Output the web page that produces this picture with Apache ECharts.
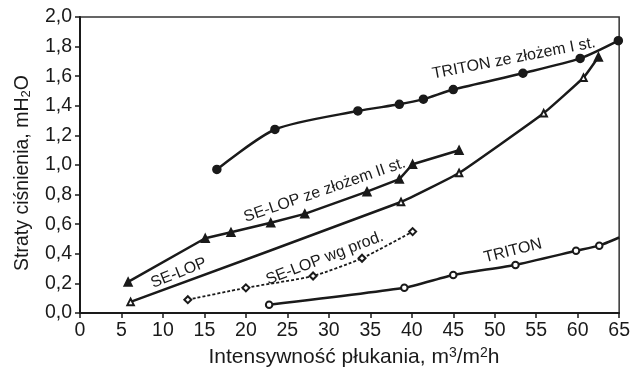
<!DOCTYPE html>
<html>
<head>
<meta charset="utf-8">
<script src="https://cdn.jsdelivr.net/npm/echarts@6/dist/echarts.min.js"></script>
<style>
  html, body { margin: 0; background: #fff; }
  #chart { width: 633px; height: 371px; }
</style>
</head>
<body>
<div id="chart"></div>
<script>
// values
const tritonBedX = [16.5, 23.5, 33.5, 38.5, 41.4, 45.0, 53.4, 60.3, 64.9];
const tritonBedY = [0.97, 1.24, 1.365, 1.41, 1.445, 1.51, 1.62, 1.72, 1.84];

const selopBedX = [5.8, 15.1, 18.2, 23.0, 27.1, 34.6, 38.5, 40.1, 45.7];
const selopBedY = [0.21, 0.505, 0.545, 0.61, 0.67, 0.82, 0.905, 1.005, 1.10];

const selopX = [6.1, 38.7, 45.7, 55.9, 60.7, 62.5];
const selopY = [0.075, 0.75, 0.946, 1.35, 1.59, 1.73];

const selopProdX = [13.0, 20.0, 28.1, 34.0, 40.1];
const selopProdY = [0.09, 0.17, 0.25, 0.37, 0.55];

const tritonX = [22.8, 39.1, 45.0, 52.5, 59.8, 62.6, 65.0];
const tritonY = [0.055, 0.17, 0.257, 0.325, 0.42, 0.455, 0.51];

const xTitle = 'Intensywność płukania, m{sup|3}/m{sup|2}h';
const yTitle = 'Straty ciśnienia, mH{sub|2}O';

const FONT = 'Liberation Sans, Arial, sans-serif';
const INK = '#1a1a1a';

const pairs = (xs, ys) => xs.map((x, i) => [x, ys[i]]);

// curve labels: anchor in data units, angle in degrees
const curveLabels = [
  { text: 'TRITON ze złożem I st.', at: [52.3, 1.72], angle: 11 },
  { text: 'SE-LOP ze złożem II st.', at: [29.5, 0.83], angle: 19 },
  { text: 'SE-LOP', at: [11.9, 0.27], angle: 22 },
  { text: 'SE-LOP wg prod.', at: [29.5, 0.37], angle: 21 },
  { text: 'TRITON', at: [52.2, 0.42], angle: 14 },
];

const chart = echarts.init(document.getElementById('chart'));

const line = (data, symbol, extra) => Object.assign({
  type: 'line',
  data,
  symbol,
  symbolSize: 7,
  smooth: 0.15,
  lineStyle: { color: INK, width: 2.5 },
  itemStyle: { color: INK, borderColor: INK, borderWidth: 1.5 },
  emphasis: { disabled: true },
  z: 3,
}, extra || {});

chart.setOption({
  animation: false,
  textStyle: { fontFamily: FONT },
  grid: {
    left: 80, right: 13, top: 17, bottom: 58,
    show: true, borderColor: '#333', borderWidth: 1.5,
  },
  xAxis: {
    type: 'value', min: 0, max: 65, interval: 5,
    axisLine: { lineStyle: { color: INK, width: 2 } },
    axisTick: { inside: false, length: 5, lineStyle: { color: INK, width: 1.5 } },
    axisLabel: { color: INK, fontSize: 19.5, margin: 8, fontFamily: FONT },
    splitLine: { show: false },
  },
  yAxis: {
    type: 'value', min: 0, max: 2, interval: 0.2,
    axisLine: { show: true, lineStyle: { color: INK, width: 2 } },
    axisTick: { show: true, inside: false, length: 5, lineStyle: { color: INK, width: 1.5 } },
    axisLabel: {
      color: INK, fontSize: 19.5, margin: 8, fontFamily: FONT,
      formatter: v => v.toFixed(1).replace('.', ','),
    },
    splitLine: { show: false },
  },
  series: [
    line(pairs(tritonBedX, tritonBedY), 'circle', { symbolSize: 8, smooth: 0.25 }),
    line(pairs(selopBedX, selopBedY), 'triangle', { symbolSize: 8, smooth: 0 }),
    line(pairs(selopX, selopY).map((p, i, a) =>
      i === a.length - 1 ? { value: p, symbol: 'triangle', symbolSize: 8 } : p),
      'emptyTriangle', { symbolSize: 6.5, smooth: 0.1 }),
    line(pairs(selopProdX, selopProdY), 'emptyDiamond', {
      symbolSize: 7,
      smooth: 0.2,
      lineStyle: { color: INK, width: 1.8, type: [3, 2] },
    }),
    line(pairs(tritonX, tritonY).map((p, i, a) =>
      i === a.length - 1 ? { value: p, symbol: 'none' } : p),
      'emptyCircle', { symbolSize: 6.5, smooth: 0.15 }),
  ],
});

const titles = [
  {
    type: 'text', x: 354, y: 357,
    style: {
      text: xTitle, fill: INK, font: '21px ' + FONT, align: 'center', verticalAlign: 'middle',
      rich: { sup: { fontSize: 14, fontFamily: FONT, fill: INK, verticalAlign: 'top' } },
    },
  },
  {
    type: 'text', x: 23, y: 173, rotation: Math.PI / 2,
    style: {
      text: yTitle, fill: INK, font: '19.5px ' + FONT, align: 'center', verticalAlign: 'middle',
      rich: { sub: { fontSize: 13, fontFamily: FONT, fill: INK, verticalAlign: 'bottom' } },
    },
  },
];

chart.setOption({
  graphic: titles.concat(curveLabels.map(l => {
    const [px, py] = chart.convertToPixel({ gridIndex: 0 }, l.at);
    return {
      type: 'text', x: px, y: py, rotation: l.angle * Math.PI / 180, z: 10,
      style: {
        text: l.text, fill: INK, font: '16px ' + FONT,
        align: 'center', verticalAlign: 'middle',
      },
    };
  })),
});
</script>
</body>
</html>
